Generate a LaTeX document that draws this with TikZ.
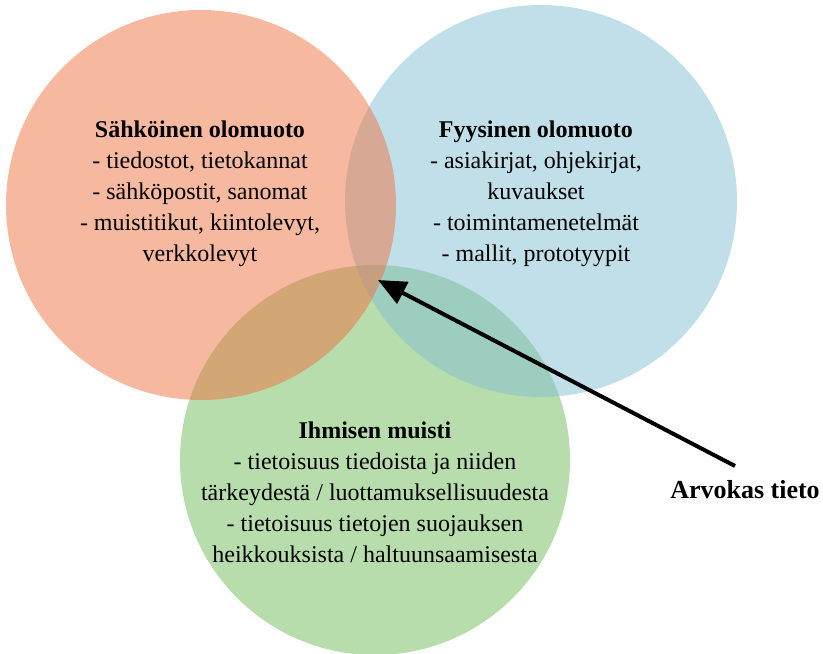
\documentclass[tikz,border=0pt]{standalone}
\usepackage{fontspec}
\setmainfont{Liberation Serif}
\usetikzlibrary{arrows.meta}
\definecolor{pinkc}{RGB}{239,113,65}
\definecolor{bluec}{RGB}{129,191,209}
\definecolor{greenc}{RGB}{113,187,89}
\begin{document}
\begin{tikzpicture}[x=1pt,y=-1pt,
  venn/.style={opacity=0.5},
  txt/.style={align=center, font=\fontsize{24}{31}\selectfont, inner sep=0pt},
  lbl/.style={font=\fontsize{26}{30}\selectfont\bfseries, inner sep=0pt},
  arr/.style={line width=4pt, -{Triangle[length=28pt,width=24pt]}}]
\useasboundingbox (0,0) rectangle (823,654);
\fill[greenc, venn] (375,460) circle[radius=195pt];
\fill[bluec, venn] (541,201) circle[radius=196pt];
\fill[pinkc, venn] (201,205) circle[radius=195pt];
\node[txt] (left) at (200,194) {\textbf{Sähköinen olomuoto}\\- tiedostot, tietokannat\\- sähköpostit, sanomat\\- muistitikut, kiintolevyt,\\verkkolevyt};
\node[txt] (right) at (536,194) {\textbf{Fyysinen olomuoto}\\- asiakirjat, ohjekirjat,\\kuvaukset\\- toimintamenetelmät\\- mallit, prototyypit};
\node[txt] (bottom) at (375,492) {\textbf{Ihmisen muisti}\\- tietoisuus tiedoista ja niiden\\tärkeydestä / luottamuksellisuudesta\\- tietoisuus tietojen suojauksen\\heikkouksista / haltuunsaamisesta};
\node[lbl] (arvo) at (745,490) {Arvokas tieto};
\coordinate (src) at (735,466);
\coordinate (tip) at (378,280);
\draw[arr] (src) -- (tip);
\end{tikzpicture}
\end{document}
